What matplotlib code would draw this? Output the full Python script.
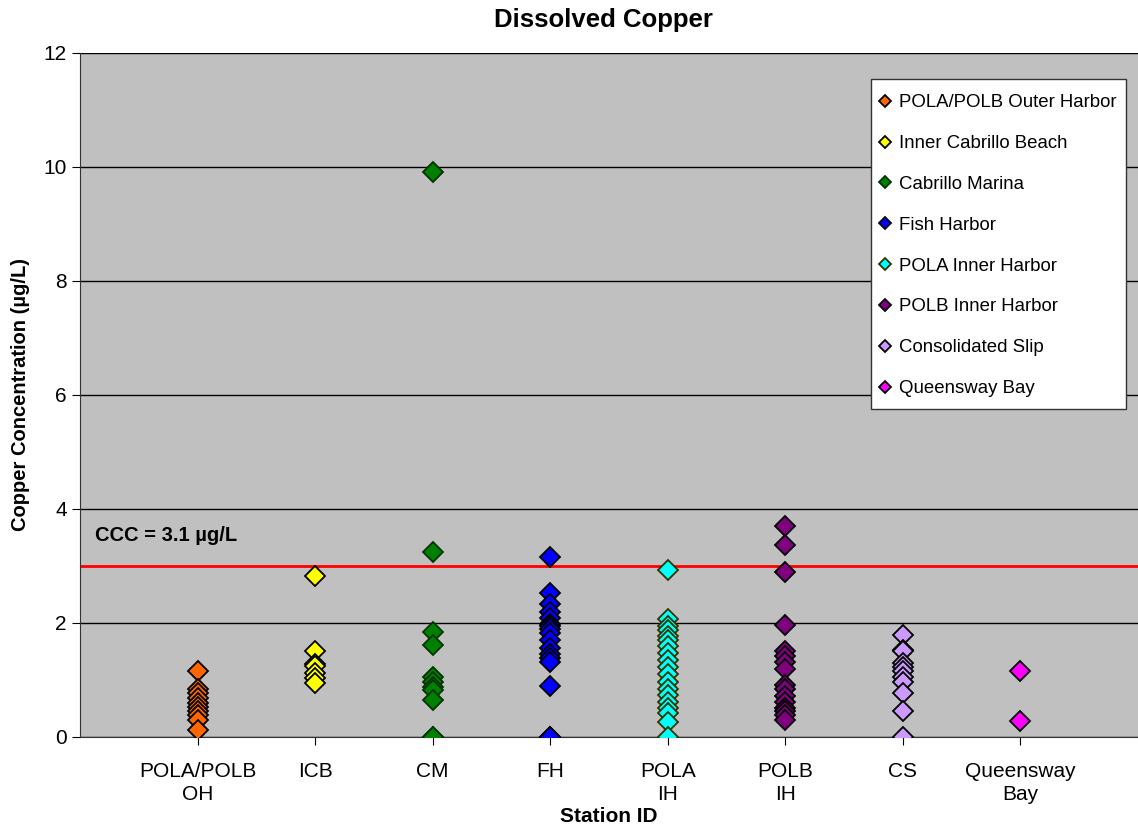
import numpy as np
import matplotlib
matplotlib.use('Agg')
import matplotlib.pyplot as plt
from matplotlib.patches import Rectangle

plt.rcParams['font.family'] = ['Liberation Sans', 'DejaVu Sans']

# station labels along x
stations = ['POLA/POLB\nOH', 'ICB', 'CM', 'FH', 'POLA\nIH', 'POLB\nIH', 'CS', 'Queensway\nBay']
names = ['POLA/POLB Outer Harbor', 'Inner Cabrillo Beach', 'Cabrillo Marina', 'Fish Harbor',
         'POLA Inner Harbor', 'POLB Inner Harbor', 'Consolidated Slip', 'Queensway Bay']
colors = ['#FF6600', '#FFFF00', '#008000', '#0000FF', '#00FFFF', '#800080', '#CC99FF', '#FF00FF']
edges = ['black', 'black', '#003300', 'black', '#333300', 'black', 'black', 'black']

# dissolved copper values (ug/L)
oh = [1.15, 0.85, 0.78, 0.68, 0.60, 0.52, 0.45, 0.38, 0.30, 0.12]
icb = [2.83, 1.50, 1.28, 1.25, 1.12, 1.03, 0.94]
cm = [9.91, 3.24, 1.84, 1.62, 1.05, 0.97, 0.88, 0.82, 0.65, 0.0, 0.0]
fh = [3.16, 2.53, 2.34, 2.20, 2.08, 1.98, 1.94, 1.90, 1.82, 1.70, 1.56, 1.45, 1.38, 1.32, 0.89, 0.0, 0.0]
pola_ih = [2.93, 2.07, 1.95, 1.88, 1.78, 1.70, 1.60, 1.47, 1.35, 1.23, 1.10, 0.97, 0.85,
           0.74, 0.62, 0.50, 0.42, 0.27, 0.0]
polb_ih = [3.71, 3.37, 2.90, 1.97, 1.50, 1.42, 1.32, 1.20, 0.92, 0.85, 0.72, 0.62, 0.50, 0.45, 0.38, 0.30]
cs = [1.79, 1.53, 1.50, 1.30, 1.22, 1.15, 1.06, 0.97, 0.78, 0.46, 0.0]
qb = [1.15, 0.28]
series = [oh, icb, cm, fh, pola_ih, polb_ih, cs, qb]

ccc = 3.0

fig = plt.figure(figsize=(11.38, 8.25), dpi=100)
ax = fig.add_axes([0.0703, 0.1067, 0.9297, 0.8291])
ax.set_facecolor('#C0C0C0')

for i, vals in enumerate(series):
    xs = np.full(len(vals), i + 1)
    ax.plot(xs, vals, linestyle='none', marker='D', markersize=10.5, markerfacecolor=colors[i],
            markeredgecolor=edges[i], markeredgewidth=1.3, label=names[i], zorder=3)

ax.axhline(ccc, color='#FF0000', lw=2, zorder=2)
ax.text(0.13, 3.53, 'CCC = 3.1 µg/L', fontsize=14.5, fontweight='bold', va='center')

ax.set_xlim(0, 9)
ax.set_ylim(0, 12)
ax.set_yticks(np.arange(0, 13, 2))
ax.set_xticks(np.arange(1, 9))
ax.set_xticklabels(stations, fontsize=15, linespacing=1.25)
ax.tick_params(axis='y', labelsize=15, direction='out', length=6)
ax.tick_params(axis='x', direction='out', length=6, pad=12)
ax.yaxis.grid(True, color='black', lw=1)
ax.set_axisbelow(True)
for s in ['top', 'right']:
    ax.spines[s].set_visible(False)
ax.spines['left'].set_color('#333333')
ax.spines['bottom'].set_color('#333333')

fig.text(0.53, 0.976, 'Dissolved Copper', fontsize=18.5, fontweight='bold', ha='center', va='center')
ax.set_ylabel('Copper Concentration (µg/L)', fontsize=14.5, fontweight='bold', labelpad=10)
ax.set_xlabel('Station ID', fontsize=15, fontweight='bold', labelpad=2)

# legend box drawn separately so the padding matches the original
ax.add_patch(Rectangle((0.7476, 0.4795), 0.2411, 0.4825, transform=ax.transAxes,
                       facecolor='white', edgecolor='#333333', lw=1, zorder=4))
leg = ax.legend(loc='upper left', bbox_to_anchor=(0.7476, 0.952), borderaxespad=0,
                fontsize=13.4, frameon=False, markerscale=0.6, handlelength=0.6,
                handletextpad=0.45, labelspacing=1.28, borderpad=0.45)
leg.set_zorder(5)

fig.savefig('out.png', dpi=100)
